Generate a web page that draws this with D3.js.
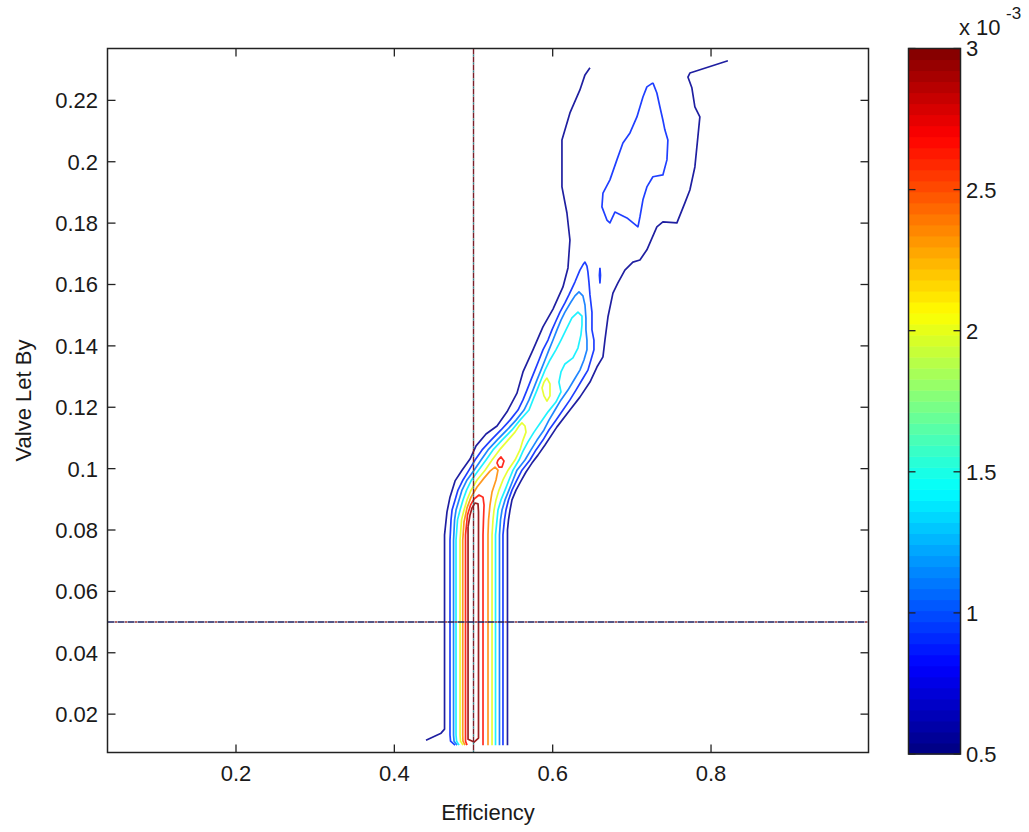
<!DOCTYPE html>
<html><head><meta charset="utf-8">
<script src="https://cdn.jsdelivr.net/npm/d3@7"></script>
<style>
html,body{margin:0;padding:0;background:#fff;overflow:hidden;}
text{font-family:"Liberation Sans",Arial,sans-serif;fill:#1a1a1a;}
</style></head>
<body>
<svg id="chart" width="1029" height="832"></svg>
<script>
// ---------- data ----------
const xTicks = [0.2, 0.4, 0.6, 0.8];
const yTicks = [0.02, 0.04, 0.06, 0.08, 0.1, 0.12, 0.14, 0.16, 0.18, 0.2, 0.22];
const yTickLabels = ["0.02","0.04","0.06","0.08","0.1","0.12","0.14","0.16","0.18","0.2","0.22"];
const cbTicks = [0.5, 1, 1.5, 2, 2.5, 3];
const cbTickLabels = ["0.5","1","1.5","2","2.5","3"];
const contourLevels = [0.55, 0.9, 1.1, 1.4, 2.0, 2.35, 2.65, 2.95]; // x 10^-3
const refEfficiency = 0.5;
const refLetBy = 0.05;

// contour lines, points are [efficiency, valve let by]
const navyLeft = [[0.4400,0.0115],[0.4590,0.0138],[0.4634,0.0151],[0.4634,0.0784],[0.4665,0.0859],[0.4703,0.0907],[0.4767,0.0960],[0.4855,0.0995],[0.4956,0.1031],[0.5032,0.1074],[0.5158,0.1113],[0.5297,0.1139],[0.5423,0.1185],[0.5549,0.1246],[0.5625,0.1315],[0.5751,0.1387],[0.5877,0.1462],[0.6004,0.1520],[0.6130,0.1592],[0.6193,0.1654],[0.6218,0.1745],[0.6180,0.1833],[0.6117,0.1918],[0.6117,0.2071],[0.6218,0.2159],[0.6344,0.2234],[0.6408,0.2283],[0.6471,0.2306]];
const navyRight = [[0.8213,0.2329],[0.7733,0.2289],[0.7708,0.2276],[0.7758,0.2241],[0.7796,0.2179],[0.7859,0.2146],[0.7834,0.2081],[0.7796,0.1983],[0.7733,0.1908],[0.7670,0.1866],[0.7569,0.1801],[0.7392,0.1804],[0.7316,0.1788],[0.7190,0.1713],[0.7102,0.1680],[0.7013,0.1673],[0.6912,0.1647],[0.6824,0.1605],[0.6761,0.1572],[0.6698,0.1494],[0.6660,0.1419],[0.6635,0.1364],[0.6559,0.1331],[0.6471,0.1282],[0.6344,0.1233],[0.6218,0.1191],[0.6054,0.1136],[0.5903,0.1077],[0.5814,0.1044],[0.5738,0.1018],[0.5663,0.0989],[0.5600,0.0960],[0.5537,0.0930],[0.5486,0.0898],[0.5461,0.0865],[0.5442,0.0833],[0.5429,0.0800],[0.5429,0.0099]];
const blueMain = [[0.4767,0.0099],[0.4710,0.0112],[0.4703,0.0132],[0.4703,0.0767],[0.4716,0.0833],[0.4729,0.0865],[0.4767,0.0898],[0.4804,0.0930],[0.4867,0.0963],[0.4943,0.0995],[0.5019,0.1028],[0.5108,0.1061],[0.5221,0.1093],[0.5347,0.1126],[0.5461,0.1158],[0.5562,0.1191],[0.5625,0.1224],[0.5675,0.1256],[0.5726,0.1289],[0.5776,0.1321],[0.5827,0.1354],[0.5877,0.1387],[0.5941,0.1419],[0.5991,0.1452],[0.6041,0.1481],[0.6092,0.1510],[0.6155,0.1540],[0.6205,0.1566],[0.6281,0.1608],[0.6344,0.1647],[0.6382,0.1664],[0.6408,0.1673],[0.6433,0.1660],[0.6445,0.1641],[0.6458,0.1608],[0.6471,0.1566],[0.6496,0.1510],[0.6496,0.1452],[0.6521,0.1419],[0.6521,0.1387],[0.6483,0.1354],[0.6445,0.1321],[0.6370,0.1289],[0.6294,0.1256],[0.6218,0.1224],[0.6130,0.1191],[0.6041,0.1158],[0.5953,0.1126],[0.5877,0.1093],[0.5789,0.1061],[0.5713,0.1028],[0.5612,0.0995],[0.5549,0.0963],[0.5486,0.0930],[0.5442,0.0898],[0.5410,0.0865],[0.5391,0.0833],[0.5372,0.0784],[0.5372,0.0099]];
const blueLens = [[0.7266,0.2257],[0.7190,0.2244],[0.7140,0.2211],[0.7064,0.2146],[0.6976,0.2094],[0.6887,0.2061],[0.6811,0.2006],[0.6723,0.1941],[0.6635,0.1898],[0.6622,0.1853],[0.6685,0.1810],[0.6723,0.1801],[0.6786,0.1836],[0.6938,0.1817],[0.7077,0.1788],[0.7102,0.1820],[0.7140,0.1876],[0.7190,0.1918],[0.7266,0.1951],[0.7392,0.1957],[0.7443,0.2006],[0.7455,0.2071],[0.7417,0.2104],[0.7392,0.2136],[0.7354,0.2179],[0.7316,0.2224],[0.7266,0.2257]];
const blueSpeck = [[0.6597,0.1654],[0.6604,0.1630],[0.6597,0.1605],[0.6590,0.1630],[0.6597,0.1654]];
const lightBlueMain = [[0.4792,0.0099],[0.4754,0.0112],[0.4748,0.0132],[0.4748,0.0767],[0.4761,0.0833],[0.4779,0.0865],[0.4817,0.0898],[0.4855,0.0930],[0.4918,0.0963],[0.5007,0.0995],[0.5095,0.1028],[0.5183,0.1061],[0.5297,0.1093],[0.5423,0.1126],[0.5537,0.1158],[0.5638,0.1191],[0.5701,0.1224],[0.5751,0.1256],[0.5802,0.1289],[0.5852,0.1321],[0.5903,0.1354],[0.5953,0.1387],[0.6004,0.1419],[0.6054,0.1452],[0.6105,0.1484],[0.6155,0.1510],[0.6231,0.1543],[0.6281,0.1563],[0.6332,0.1576],[0.6382,0.1563],[0.6408,0.1533],[0.6420,0.1491],[0.6420,0.1452],[0.6433,0.1419],[0.6433,0.1387],[0.6395,0.1354],[0.6344,0.1321],[0.6269,0.1289],[0.6193,0.1256],[0.6105,0.1224],[0.6029,0.1191],[0.5953,0.1158],[0.5890,0.1126],[0.5802,0.1093],[0.5726,0.1061],[0.5650,0.1028],[0.5549,0.0995],[0.5499,0.0963],[0.5448,0.0930],[0.5398,0.0898],[0.5360,0.0865],[0.5341,0.0833],[0.5328,0.0784],[0.5328,0.0099]];
const cyanMain = [[0.4817,0.0099],[0.4786,0.0112],[0.4779,0.0132],[0.4779,0.0767],[0.4798,0.0833],[0.4830,0.0865],[0.4867,0.0898],[0.4912,0.0930],[0.4975,0.0963],[0.5063,0.0995],[0.5158,0.1028],[0.5246,0.1061],[0.5360,0.1093],[0.5486,0.1126],[0.5587,0.1158],[0.5701,0.1191],[0.5751,0.1224],[0.5802,0.1256],[0.5852,0.1289],[0.5903,0.1321],[0.5966,0.1354],[0.6041,0.1387],[0.6105,0.1419],[0.6168,0.1452],[0.6243,0.1491],[0.6319,0.1510],[0.6370,0.1497],[0.6370,0.1468],[0.6357,0.1436],[0.6319,0.1393],[0.6256,0.1361],[0.6155,0.1341],[0.6105,0.1315],[0.6079,0.1282],[0.6105,0.1250],[0.6041,0.1217],[0.5941,0.1185],[0.5852,0.1152],[0.5764,0.1119],[0.5688,0.1087],[0.5625,0.1057],[0.5575,0.1028],[0.5499,0.0995],[0.5448,0.0963],[0.5398,0.0930],[0.5347,0.0898],[0.5309,0.0865],[0.5297,0.0833],[0.5278,0.0784],[0.5278,0.0099]];
const yellowMain = [[0.4867,0.0099],[0.4836,0.0112],[0.4830,0.0132],[0.4830,0.0767],[0.4849,0.0833],[0.4880,0.0865],[0.4918,0.0898],[0.4969,0.0930],[0.5045,0.0963],[0.5146,0.0995],[0.5234,0.1028],[0.5328,0.1061],[0.5436,0.1093],[0.5524,0.1119],[0.5575,0.1139],[0.5612,0.1149],[0.5650,0.1139],[0.5663,0.1119],[0.5625,0.1093],[0.5587,0.1061],[0.5524,0.1028],[0.5436,0.0995],[0.5372,0.0963],[0.5322,0.0930],[0.5284,0.0898],[0.5259,0.0865],[0.5246,0.0833],[0.5234,0.0784],[0.5234,0.0099]];
const yellowIsland = [[0.5890,0.1282],[0.5928,0.1295],[0.5966,0.1276],[0.5966,0.1237],[0.5928,0.1220],[0.5890,0.1237],[0.5865,0.1263],[0.5890,0.1282]];
const orangeMain = [[0.4893,0.0099],[0.4867,0.0112],[0.4864,0.0132],[0.4864,0.0767],[0.4880,0.0826],[0.4918,0.0872],[0.4969,0.0907],[0.5045,0.0940],[0.5133,0.0969],[0.5208,0.0992],[0.5271,0.1005],[0.5309,0.0995],[0.5284,0.0963],[0.5234,0.0924],[0.5208,0.0881],[0.5190,0.0833],[0.5183,0.0784],[0.5183,0.0099]];
const redMain = [[0.4918,0.0099],[0.4899,0.0112],[0.4899,0.0784],[0.4924,0.0849],[0.4962,0.0881],[0.5007,0.0901],[0.5070,0.0914],[0.5120,0.0907],[0.5133,0.0881],[0.5126,0.0833],[0.5120,0.0784],[0.5120,0.0099]];
const redIsland = [[0.5309,0.1028],[0.5347,0.1038],[0.5385,0.1025],[0.5360,0.1005],[0.5322,0.1005],[0.5297,0.1018],[0.5309,0.1028]];
const darkRedLoop = [[0.4931,0.0810],[0.4956,0.0849],[0.4981,0.0872],[0.5019,0.0888],[0.5057,0.0885],[0.5063,0.0859],[0.5063,0.0122],[0.5007,0.0109],[0.4931,0.0118],[0.4931,0.0810]];

const contourLines = [
  {level: contourLevels[0], pts: navyLeft}, {level: contourLevels[0], pts: navyRight},
  {level: contourLevels[1], pts: blueMain}, {level: contourLevels[1], pts: blueLens}, {level: contourLevels[1], pts: blueSpeck},
  {level: contourLevels[2], pts: lightBlueMain},
  {level: contourLevels[3], pts: cyanMain},
  {level: contourLevels[4], pts: yellowMain}, {level: contourLevels[4], pts: yellowIsland},
  {level: contourLevels[5], pts: orangeMain},
  {level: contourLevels[6], pts: redMain}, {level: contourLevels[6], pts: redIsland},
  {level: contourLevels[7], pts: darkRedLoop}
];

// ---------- layout ----------
const svg = d3.select("#chart");
const L = 107.5, R = 868.5, T = 48.5, B = 752.5;
const x = d3.scaleLinear().domain([0.0377, 0.9989]).range([L, R]);
const y = d3.scaleLinear().domain([0.0075, 0.2369]).range([B, T]);
const cbL = 908.5, cbR = 960.5;
const cy = d3.scaleLinear().domain([0.5, 3]).range([754, 48.5]);

function jet(t){
  const c = v => Math.max(0, Math.min(1, v));
  const r = c(1.5 - Math.abs(4*t - 3)), g = c(1.5 - Math.abs(4*t - 2)), b = c(1.5 - Math.abs(4*t - 1));
  return d3.rgb(r*255, g*255, b*255).toString();
}
const colorOf = v => jet((v - 0.5) / 2.5);

svg.append("defs").append("clipPath").attr("id","plotclip")
  .append("rect").attr("x",L).attr("y",T).attr("width",R-L).attr("height",B-T);

const plot = svg.append("g").attr("clip-path","url(#plotclip)");
const line = d3.line().x(d => x(d[0])).y(d => y(d[1]));

contourLines.forEach(c => {
  plot.append("path").attr("d", line(c.pts)).attr("fill","none")
    .attr("stroke", colorOf(c.level)).attr("stroke-width",1.7)
    .attr("stroke-linejoin","round").attr("opacity",0.88);
});

// reference lines
plot.append("line").attr("x1",x(refEfficiency)).attr("x2",x(refEfficiency)).attr("y1",T).attr("y2",B)
  .attr("stroke","#7a1f2a").attr("stroke-width",1.4).attr("stroke-dasharray","6,2");
plot.append("line").attr("x1",x(refEfficiency)).attr("x2",x(refEfficiency)).attr("y1",T).attr("y2",B)
  .attr("stroke","#2f7f86").attr("stroke-width",1.4).attr("stroke-dasharray","2,6").attr("stroke-dashoffset",-6);
plot.append("line").attr("x1",L).attr("x2",R).attr("y1",y(refLetBy)).attr("y2",y(refLetBy))
  .attr("stroke","#1e2060").attr("stroke-width",1.4).attr("stroke-dasharray","7,3");
plot.append("line").attr("x1",L).attr("x2",R).attr("y1",y(refLetBy)).attr("y2",y(refLetBy))
  .attr("stroke","#9a3030").attr("stroke-width",1.4).attr("stroke-dasharray","2,8").attr("stroke-dashoffset",-7.5);

// axes box and ticks
const ax = svg.append("g");
ax.append("rect").attr("x",L).attr("y",T).attr("width",R-L).attr("height",B-T)
  .attr("fill","none").attr("stroke","#222").attr("stroke-width",1.5);
const tl = 8;
xTicks.forEach(v => {
  ax.append("line").attr("x1",x(v)).attr("x2",x(v)).attr("y1",B).attr("y2",B-tl).attr("stroke","#222").attr("stroke-width",1.3);
  ax.append("line").attr("x1",x(v)).attr("x2",x(v)).attr("y1",T).attr("y2",T+tl).attr("stroke","#222").attr("stroke-width",1.3);
  ax.append("text").attr("x",x(v)).attr("y",781).attr("text-anchor","middle").attr("font-size",22).text(String(v));
});
yTicks.forEach((v,i) => {
  ax.append("line").attr("x1",L).attr("x2",L+tl).attr("y1",y(v)).attr("y2",y(v)).attr("stroke","#222").attr("stroke-width",1.3);
  ax.append("line").attr("x1",R).attr("x2",R-tl).attr("y1",y(v)).attr("y2",y(v)).attr("stroke","#222").attr("stroke-width",1.3);
  ax.append("text").attr("x",98).attr("y",y(v)).attr("dy","0.36em").attr("text-anchor","end").attr("font-size",22).text(yTickLabels[i]);
});
ax.append("text").attr("x",(L+R)/2).attr("y",820).attr("text-anchor","middle").attr("font-size",22).text("Efficiency");
ax.append("text").attr("transform",`translate(31,${(T+B)/2}) rotate(-90)`).attr("text-anchor","middle").attr("font-size",22).text("Valve Let By");

// colorbar
const nb = 64;
const cb = svg.append("g");
for (let i = 0; i < nb; i++) {
  const v0 = 0.5 + 2.5*i/nb, v1 = 0.5 + 2.5*(i+1)/nb;
  cb.append("rect").attr("x",cbL).attr("width",cbR-cbL)
    .attr("y",cy(v1)).attr("height",cy(v0)-cy(v1)+0.5)
    .attr("fill",jet((i+0.5)/nb));
}
cb.append("rect").attr("x",cbL).attr("y",cy(3)).attr("width",cbR-cbL).attr("height",cy(0.5)-cy(3))
  .attr("fill","none").attr("stroke","#222").attr("stroke-width",1.5);
cbTicks.forEach((v,i) => {
  cb.append("line").attr("x1",cbL).attr("x2",cbL+7).attr("y1",cy(v)).attr("y2",cy(v)).attr("stroke","#222").attr("stroke-width",1.3);
  cb.append("line").attr("x1",cbR).attr("x2",cbR-7).attr("y1",cy(v)).attr("y2",cy(v)).attr("stroke","#222").attr("stroke-width",1.3);
  cb.append("text").attr("x",966).attr("y",cy(v)).attr("dy","0.36em").attr("font-size",22).text(cbTickLabels[i]);
});
cb.append("text").attr("x",959).attr("y",35).attr("font-size",22).text("x");
cb.append("text").attr("x",976).attr("y",35).attr("font-size",22).text("10");
cb.append("text").attr("x",1006).attr("y",19).attr("font-size",17).text("-3");
</script>
</body></html>
